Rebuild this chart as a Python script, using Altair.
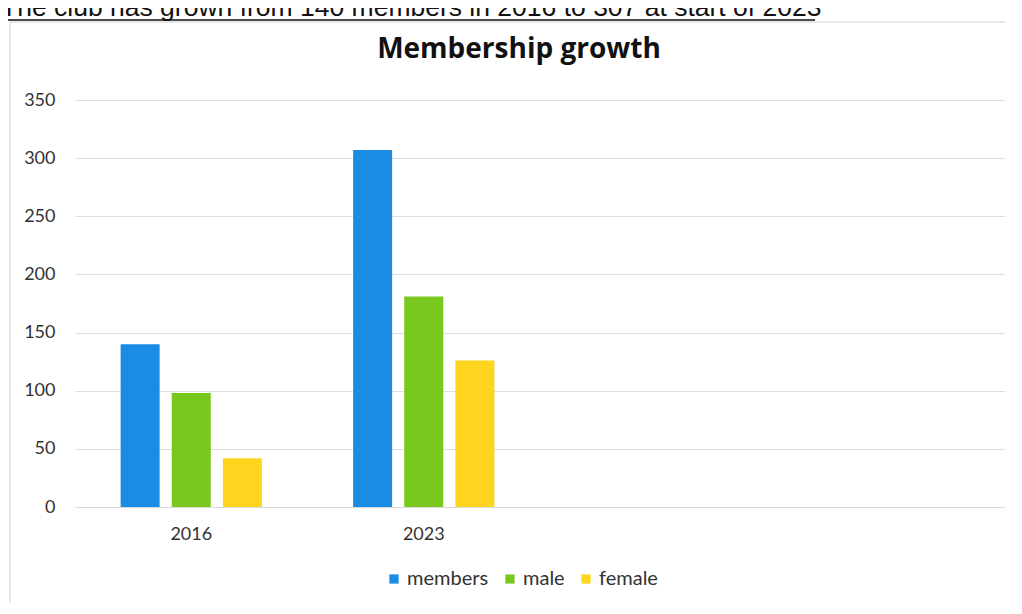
import altair as alt
import pandas as pd

years = ["2016", "2023"]
series = ["members", "male", "female"]
members = [140, 307]
male = [98, 181]
female = [42, 126]
colors = ["#1B8CE3", "#78C81E", "#FFD41F"]
x_domain = ["2016", "2023", "_a", "_b"]
y_ticks = [0, 50, 100, 150, 200, 250, 300, 350]
chart_title = "Membership growth"
caption = "The club has grown from 140 members in 2016 to 307 at start of 2023"

rows = []
for i, y in enumerate(years):
    rows.append({"year": y, "series": "members", "value": members[i]})
    rows.append({"year": y, "series": "male", "value": male[i]})
    rows.append({"year": y, "series": "female", "value": female[i]})
df = pd.DataFrame(rows)

FONT = "Lato"

bars = alt.Chart(df).mark_bar(size=39).encode(
    x=alt.X("year:N", scale=alt.Scale(domain=x_domain, paddingInner=0, paddingOuter=0),
            axis=alt.Axis(title=None, labelExpr="indexof(datum.label, '_') == 0 ? '' : datum.label",
                          labelAngle=0, ticks=False, domainColor="#d9d9d9", labelFont=FONT,
                          labelFontSize=18, labelColor="#333333", labelPadding=18, grid=False)),
    xOffset=alt.XOffset("series:N", sort=series,
                        scale=alt.Scale(paddingInner=0.216, paddingOuter=0.882)),
    y=alt.Y("value:Q", scale=alt.Scale(domain=[0, 350], nice=False),
            axis=alt.Axis(title=None, values=y_ticks, ticks=False, domain=False,
                          gridColor="#dedede", labelFont=FONT, labelFontSize=18,
                          labelColor="#333333", labelPadding=20)),
    color=alt.Color("series:N", sort=series,
                    scale=alt.Scale(domain=series, range=colors),
                    legend=alt.Legend(title=None, orient="none", legendX=309, legendY=469,
                                      direction="horizontal",
                                      symbolType="square", symbolSize=85, labelFont=FONT,
                                      labelFontSize=20, labelColor="#333333",
                                      columnPadding=11, symbolStrokeWidth=0, labelOffset=3)),
)

text_df = pd.DataFrame({"t": [caption], "h": [chart_title]})
cap = alt.Chart(text_df).mark_text(font="Liberation Sans", fontSize=26.5, align="left",
                                   baseline="alphabetic", color="#111111").encode(
    text="t:N", x=alt.value(-74), y=alt.value(-84))
underline = alt.Chart(text_df).mark_rule(color="#111111", strokeWidth=1.5).encode(
    x=alt.value(-67), x2=alt.value(740), y=alt.value(-80))
head = alt.Chart(text_df).mark_text(font="Open Sans", fontSize=28, fontWeight="bold",
                                    align="center", baseline="middle", color="#111111").encode(
    text="h:N", x=alt.value(444), y=alt.value(-50))
frame = alt.Chart(text_df).mark_rect(fill=None, stroke="#cfcfcf", strokeWidth=1).encode(
    x=alt.value(-65), x2=alt.value(960), y=alt.value(-78), y2=alt.value(505))

chart = alt.layer(frame, bars, cap, underline, head).properties(
    width=930, height=407,
    autosize=alt.AutoSizeParams(type="none"),
    padding={"left": 67, "top": 92, "right": 0, "bottom": 96},
).configure_view(stroke=None)

chart.save("out.html", embed_options={"renderer": "svg", "actions": False})
